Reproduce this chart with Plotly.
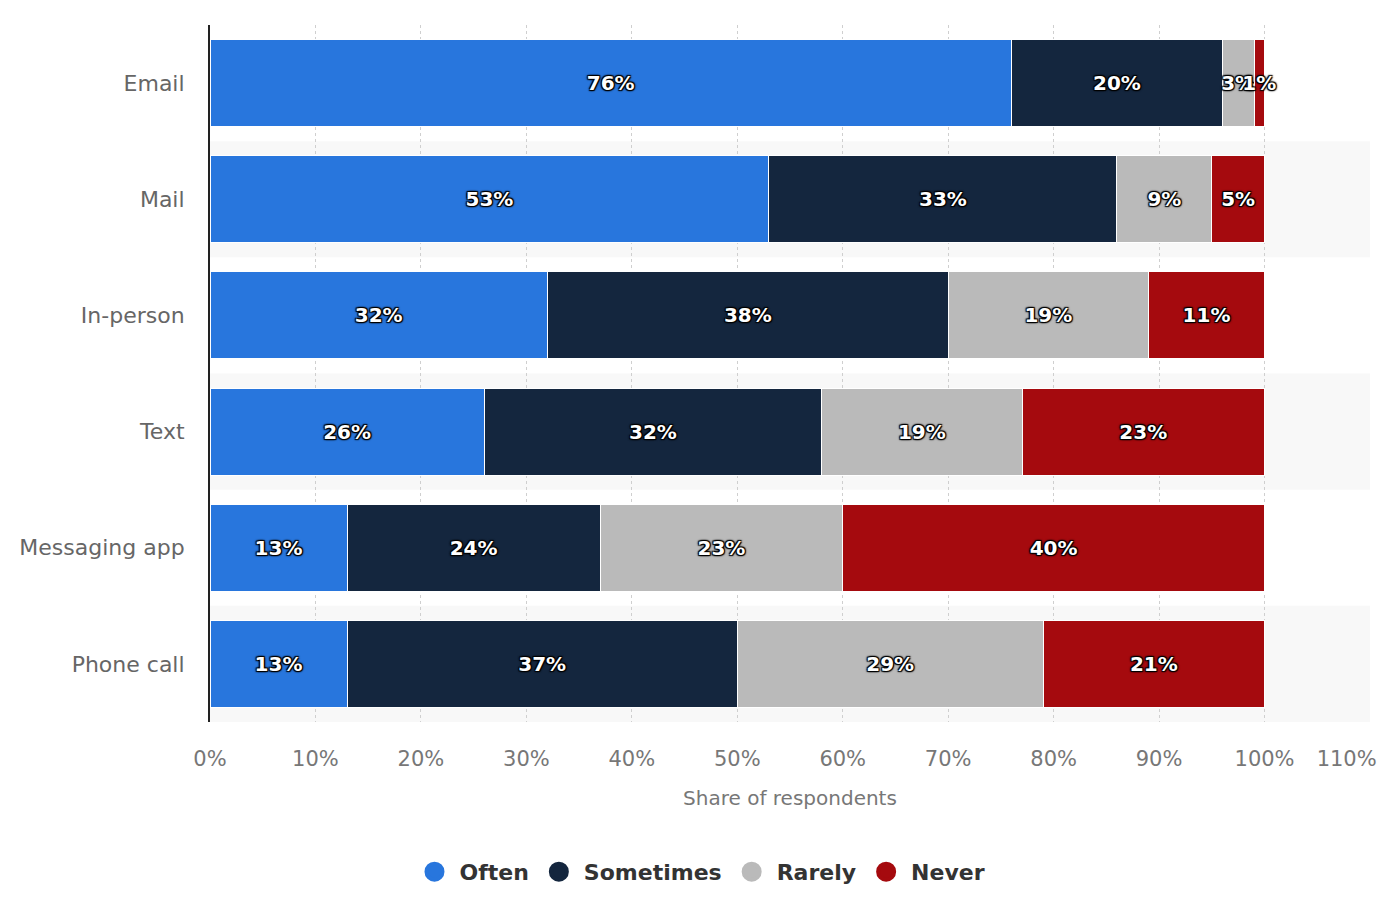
import plotly.graph_objects as go

categories = ["Email", "Mail", "In-person", "Text", "Messaging app", "Phone call"]
often = [76, 53, 32, 26, 13, 13]
sometimes = [20, 33, 38, 32, 24, 37]
rarely = [3, 9, 19, 19, 23, 29]
never = [1, 5, 11, 23, 40, 21]
series_names = ["Often", "Sometimes", "Rarely", "Never"]
series_values = [often, sometimes, rarely, never]
colors = ["#2876dd", "#14263e", "#bababa", "#a50a0e"]
x_ticks = list(range(0, 111, 10))

FONT = "DejaVu Sans"
shadow = ("-1px -1px 1px #000, 1px -1px 1px #000, -1px 1px 1px #000, 1px 1px 1px #000, "
          "0 0 3px #000")

# last tick label is nudged left (padded) so it stays inside the page, as in the original
tick_text = [f"{t}%" for t in x_ticks]
tick_text[-1] = tick_text[-1] + "\u00a0" * 7

fig = go.Figure()
for name, vals, col in zip(series_names, series_values, colors):
    fig.add_trace(go.Bar(
        y=categories, x=vals, name=name, orientation="h",
        marker=dict(color=col, line=dict(color="white", width=1)),
        text=[f"{v}%" for v in vals], textposition="inside",
        insidetextanchor="middle", textangle=0, constraintext="none",
        textfont=dict(family=FONT, size=20, color="white", weight="bold", shadow=shadow),
        showlegend=False, hoverinfo="skip",
    ))
for name, col in zip(series_names, colors):
    fig.add_trace(go.Scatter(
        x=[None], y=[None], mode="markers", name=name,
        marker=dict(color=col, size=16, symbol="circle", line=dict(color=col, width=4)),
        showlegend=True, hoverinfo="skip",
    ))

# alternating row bands
for i in range(len(categories)):
    if i % 2 == 1:
        fig.add_shape(type="rect", xref="paper", x0=0, x1=1, yref="y",
                      y0=i - 0.5, y1=i + 0.5, fillcolor="#f8f8f8",
                      line=dict(width=0), layer="below")

fig.update_layout(
    barmode="stack", bargap=0.25,
    width=1392, height=908, autosize=False,
    margin=dict(l=202, r=30, t=17, b=194, autoexpand=False),
    plot_bgcolor="white", paper_bgcolor="white",
    font=dict(family=FONT, color="#666"),
    uniformtext=dict(minsize=20, mode="show"),
    legend=dict(orientation="h", traceorder="normal", x=0.4224, xanchor="center",
                y=-0.215, yanchor="middle", itemwidth=40,
                font=dict(family=FONT, size=22, color="#333", weight="bold")),
    xaxis=dict(range=[0, 110], tickvals=x_ticks, ticktext=tick_text,
               tickangle=0, ticklabelstandoff=22, ticklabeloverflow="allow",
               showgrid=True, gridcolor="#cfcfcf", griddash="dot", gridwidth=1,
               zeroline=False, showline=False,
               tickfont=dict(family=FONT, size=21, color="#777"),
               title=dict(text="Share of respondents", standoff=20,
                          font=dict(family=FONT, size=20, color="#777"))),
    yaxis=dict(autorange="reversed", showgrid=False, showline=True,
               linecolor="#222", linewidth=2, ticks="", ticklabelstandoff=19,
               tickfont=dict(family=FONT, size=22, color="#666")),
)

fig.write_html("out.html")
